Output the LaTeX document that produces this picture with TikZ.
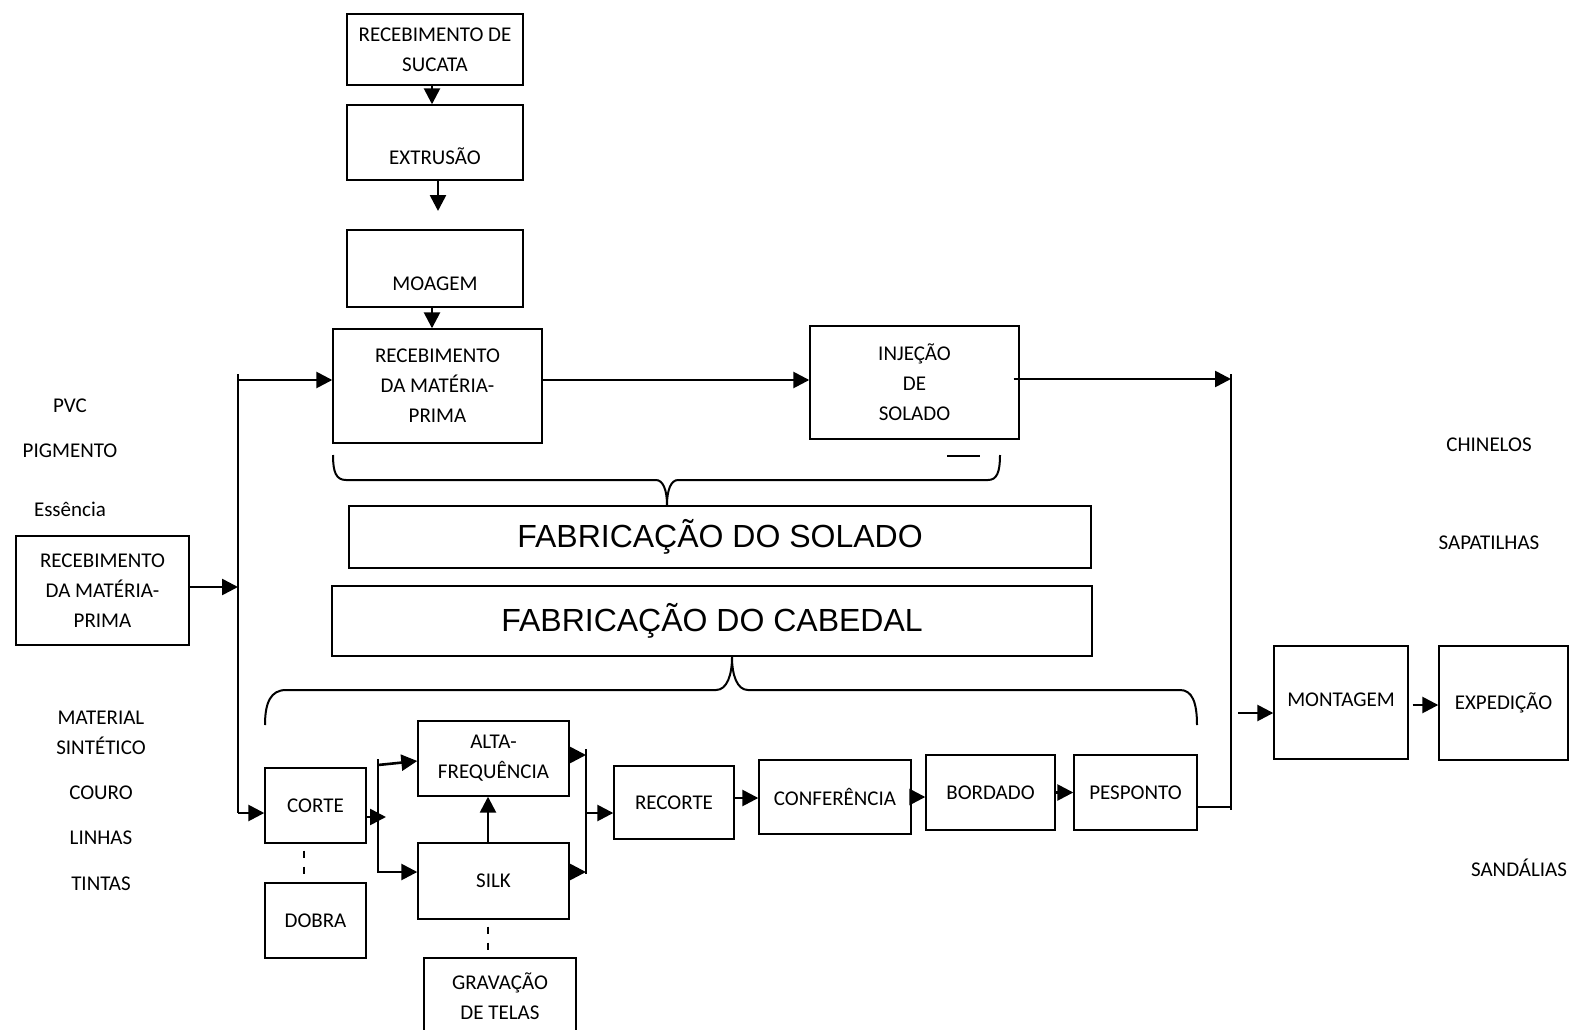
\documentclass[tikz,border=0pt]{standalone}
\usepackage{fontspec}
\newfontfamily\lblfont{Carlito}
\newfontfamily\ttlfont{Liberation Sans}
\usetikzlibrary{arrows.meta,calc}
\tikzset{
  box/.style={draw, line width=1.4pt, inner sep=0pt, align=center, font=\lblfont\fontsize{21}{30}\selectfont},
  sz/.style 2 args={minimum width=#1pt, minimum height=#2pt},
  ttl/.style={draw, line width=1.8pt, inner sep=0pt, font=\ttlfont\fontsize{32}{38}\selectfont},
  lbl/.style={inner sep=0pt, text height=13.5pt, text depth=0pt, font=\lblfont\fontsize{21}{30}\selectfont},
  lowtext/.style={text height=44pt, text depth=0pt},
  arr/.style={line width=2.6pt, -{Triangle[length=16pt,width=16pt]}},
  ln/.style={line width=2.4pt},
  bracestyle/.style={line width=2pt},
  dashln/.style={line width=2pt, dash pattern=on 7pt off 9pt, dash phase=9pt},
}
\begin{document}
\begin{tikzpicture}[x=1pt,y=-1pt]
\useasboundingbox (0,0) rectangle (1574,1030);
\clip (0,0) rectangle (1574,1030);

% boxes
\node[box, sz={176}{71}] (sucata) at (435,49.5) {RECEBIMENTO DE\\SUCATA};
\node[box, sz={176}{75}, lowtext] (extr) at (435,142.5) {EXTRUSÃO};
\node[box, sz={176}{77}, lowtext] (moag) at (435,268.5) {MOAGEM};
\node[box, sz={209}{114}] (recT) at (437.5,386) {RECEBIMENTO\\DA MATÉRIA-\\PRIMA};
\node[box, sz={209}{113}] (inj) at (914.5,382.5) {INJEÇÃO\\DE\\SOLADO};
\node[box, sz={173}{109}] (recL) at (102.5,590.5) {RECEBIMENTO\\DA MATÉRIA-\\PRIMA};
\node[ttl, sz={742}{62}] (solado) at (720,537) {FABRICAÇÃO DO SOLADO};
\node[ttl, sz={760}{70}] (cabedal) at (712,621) {FABRICAÇÃO DO CABEDAL};
\node[box, sz={101}{75}] (corte) at (315.5,805.5) {CORTE};
\node[box, sz={101}{75}] (dobra) at (315.5,920.5) {DOBRA};
\node[box, sz={151}{75}] (alta) at (493.5,758.5) {ALTA-\\FREQUÊNCIA};
\node[box, sz={151}{76}] (silk) at (493.5,881) {SILK};
\node[box, sz={152}{76}] (grav) at (500,996) {GRAVAÇÃO\\DE TELAS};
\node[box, sz={120}{73}] (recorte) at (674,802.5) {RECORTE};
\node[box, sz={152}{74}] (conf) at (835,797) {CONFERÊNCIA};
\node[box, sz={129}{75}] (bord) at (990.5,792.5) {BORDADO};
\node[box, sz={123}{75}] (pesp) at (1135.5,792.5) {PESPONTO};
\node[box, sz={134}{113}, text depth=5pt] (mont) at (1341,702.5) {MONTAGEM};
\node[box, sz={129}{114}, text depth=4pt] (exped) at (1503.5,703) {EXPEDIÇÃO};

% free labels
\node[lbl] (pvc) at (70,406) {PVC};
\node[lbl] (pig) at (70,451) {PIGMENTO};
\node[lbl] (ess) at (70,510) {Essência};
\node[lbl] (mat) at (101,718) {MATERIAL};
\node[lbl] (sint) at (101,748) {SINTÉTICO};
\node[lbl] (couro) at (101,793) {COURO};
\node[lbl] (linhas) at (101,838) {LINHAS};
\node[lbl] (tintas) at (101,884) {TINTAS};
\node[lbl] (chin) at (1489,445) {CHINELOS};
\node[lbl] (sapa) at (1489,543) {SAPATILHAS};
\node[lbl] (sand) at (1519,870) {SANDÁLIAS};

% coordinates
\coordinate (bLt) at (238,374);
\coordinate (bLb) at (238,813);
\coordinate (bRt) at (1231,374);
\coordinate (bRb) at (1231,810);
\coordinate (extrEnd) at (438,211);
\coordinate (montIn) at (1238,713);
\coordinate (sTop) at (378,759);
\coordinate (sBot) at (378,873);
\coordinate (cTip) at (386,817);
\coordinate (mTop) at (586,749);
\coordinate (mBot) at (586,874);

% top chain
\coordinate (sA) at ($(sucata.south)+(-3,0)$);
\draw[arr] (sA) -- (sA |- extr.north);
\draw[arr] ($(extr.south)+(3,0)$) -- (extrEnd);
\coordinate (mA) at ($(moag.south)+(-3,0)$);
\draw[arr] (mA) -- (mA |- recT.north);

% left bus
\draw[ln] (bLt) -- (bLb);
\draw[arr] (bLb) -- (bLb -| corte.west);
\coordinate (recLout) at ($(recL.east)+(0,-3.5)$);
\draw[arr] (recLout) -- (recLout -| bLt);
\coordinate (rT) at ($(recT.west)+(0,-6)$);
\draw[arr] (rT -| bLt) -- (rT);
\draw[arr] (rT -| recT.east) -- (rT -| inj.west);

% right bus
\coordinate (iO) at ($(inj.east)+(-6,-3.5)$);
\draw[arr] (iO) -- (iO -| bRt);
\draw[ln] (bRt) -- (bRb);
\coordinate (pO) at ($(pesp.east)+(0,14.5)$);
\draw[ln] (pO) -- (pO -| bRt);
\draw[arr] (montIn) -- (montIn -| mont.west);
\coordinate (mO) at ($(mont.east)+(4,2.5)$);
\draw[arr] (mO) -- (mO -| exped.west);

% split after corte
\coordinate (cO) at ($(corte.east)+(0,11.5)$);
\draw[arr] (cO) -- (cTip);
\draw[ln] (sTop) -- (sBot);
\draw[arr] ($(sTop)+(0,6)$) -- ($(alta.west)+(0,2.5)$);
\coordinate (sB) at ($(sBot)+(0,-1)$);
\draw[arr] (sB) -- (sB -| silk.west);
\coordinate (sk) at ($(silk.north)+(-5.5,0)$);
\draw[arr] (sk) -- (sk |- alta.south);

% merge
\coordinate (aO) at ($(alta.east)+(0,-3.5)$);
\draw[arr] (aO) -- (aO -| mTop);
\coordinate (kO) at ($(silk.east)+(0,-9)$);
\draw[arr] (kO) -- (kO -| mTop);
\draw[ln] (mTop) -- (mBot);
\coordinate (rI) at ($(recorte.west)+(0,10.5)$);
\draw[arr] (rI -| mTop) -- (rI);
\coordinate (r2) at ($(recorte.east)+(0,-4.5)$);
\draw[arr] (r2) -- (r2 -| conf.west);
\draw[arr] (conf.east) -- (conf.east -| bord.west);
\draw[arr] (bord.east) -- (pesp.west);

% dashed
\draw[dashln] ($(corte.south)+(-12,0)$) -- ($(dobra.north)+(-12,0)$);
\draw[dashln] ($(silk.south)+(-5.5,0)$) -- ($(grav.north)+(-12,0)$);

% braces
\draw[bracestyle] (333,455) .. controls (333,472) and (336,480) .. (346,480)
  -- (656,480) .. controls (663,480) and (667,490) .. (667,505)
  .. controls (667,490) and (671,480) .. (678,480)
  -- (988,480) .. controls (997,480) and (1000,472) .. (1000,455);
\draw[bracestyle] (265,725) .. controls (265,702) and (271,690) .. (286,690)
  -- (716,690) .. controls (727,690) and (732,675) .. (732,657)
  .. controls (732,675) and (737,690) .. (748,690)
  -- (1180,690) .. controls (1192,690) and (1197,702) .. (1197,725);
\draw[line width=1.5pt] (947,456) -- (980,456);
\end{tikzpicture}
\end{document}
